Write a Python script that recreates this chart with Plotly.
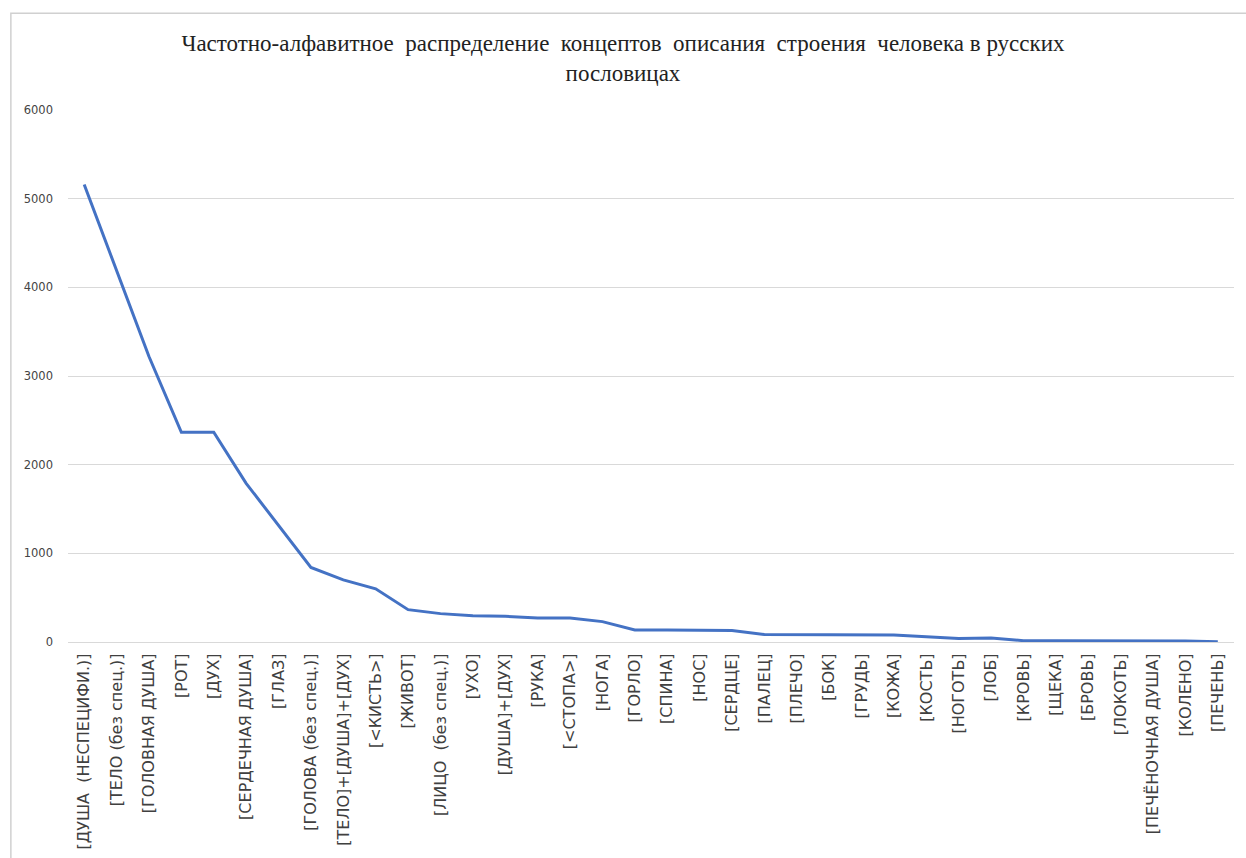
import plotly.graph_objects as go

# Concepts in descending order of frequency
concepts = [
    "[ДУША  (НЕСПЕЦИФИ.)]", "[ТЕЛО (без спец.)]", "[ГОЛОВНАЯ ДУША]", "[РОТ]", "[ДУХ]",
    "[СЕРДЕЧНАЯ ДУША]", "[ГЛАЗ]", "[ГОЛОВА (без спец.)]", "[ТЕЛО]+[ДУША]+[ДУХ]", "[<КИСТЬ>]",
    "[ЖИВОТ]", "[ЛИЦО  (без спец.)]", "[УХО]", "[ДУША]+[ДУХ]", "[РУКА]",
    "[<СТОПА>]", "[НОГА]", "[ГОРЛО]", "[СПИНА]", "[НОС]",
    "[СЕРДЦЕ]", "[ПАЛЕЦ]", "[ПЛЕЧО]", "[БОК]", "[ГРУДЬ]",
    "[КОЖА]", "[КОСТЬ]", "[НОГОТЬ]", "[ЛОБ]", "[КРОВЬ]",
    "[ЩЕКА]", "[БРОВЬ]", "[ЛОКОТЬ]", "[ПЕЧЁНОЧНАЯ ДУША]", "[КОЛЕНО]",
    "[ПЕЧЕНЬ]",
]
frequency = [
    5160, 4200, 3220, 2365, 2365,
    1790, 1310, 840, 700, 600,
    365, 320, 295, 290, 270,
    270, 230, 135, 135, 135,
    130, 85, 85, 85, 85,
    80, 60, 40, 45, 15,
    15, 15, 15, 15, 12,
    3,
]
y_ticks = [0, 1000, 2000, 3000, 4000, 5000, 6000]

title_text = ("Частотно-алфавитное  распределение  концептов  описания  строения  "
              "человека в русских<br>пословицах")

fig = go.Figure(
    go.Scatter(
        x=concepts,
        y=frequency,
        mode="lines",
        line=dict(color="#4472C4", width=3),
        hoverinfo="x+y",
    )
)

fig.update_layout(
    width=1246,
    height=858,
    margin=dict(l=68, r=12, t=110, b=216),
    paper_bgcolor="white",
    plot_bgcolor="white",
    showlegend=False,
    title=dict(
        text=title_text,
        x=0.5,
        xanchor="center",
        y=0.94,
        yanchor="top",
        font=dict(family="Liberation Serif", size=23, color="#222222"),
    ),
    xaxis=dict(
        type="category",
        range=[-0.5, len(concepts) - 0.5],
        automargin=False,
        tickangle=-90,
        tickfont=dict(family="DejaVu Sans", size=16, color="#404040"),
        showgrid=False,
        showline=True,
        linecolor="#d9d9d9",
        linewidth=1,
        ticks="",
        ticklabelstandoff=4,
    ),
    yaxis=dict(
        range=[0, 6000],
        automargin=False,
        tickvals=y_ticks,
        ticktext=[str(v) for v in y_ticks],
        tickfont=dict(family="DejaVu Sans", size=11.5, color="#444444"),
        showgrid=True,
        gridcolor="#d9d9d9",
        gridwidth=1,
        zeroline=False,
        showline=False,
        ticks="",
        ticklabelstandoff=14,
    ),
    shapes=[
        dict(
            type="rect",
            xref="paper",
            yref="paper",
            x0=-0.049,
            x1=1.014,
            y0=-0.43,
            y1=1.182,
            line=dict(color="#d0d0d0", width=1.5),
            fillcolor="rgba(0,0,0,0)",
            layer="below",
        )
    ],
)

fig.write_html("out.html")
